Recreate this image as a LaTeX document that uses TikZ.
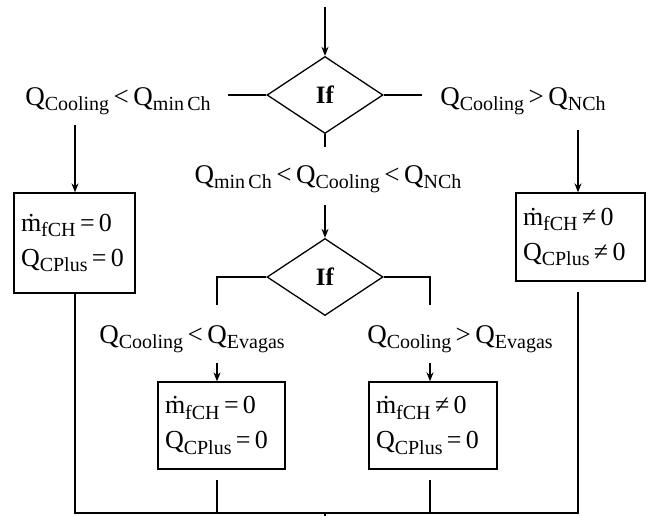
\documentclass[tikz,border=0pt]{standalone}
\usepackage{fontspec}
\setmainfont{Liberation Serif}
\usetikzlibrary{shapes.geometric,arrows.meta}
\newcommand\lowsub[1]{\raisebox{-5.5pt}{\fontsize{20}{20}\selectfont #1}}
\tikzset{
  lbl/.style={inner sep=0pt, font=\fontsize{27}{30}\selectfont},
  dec/.style={draw, diamond, aspect=1.5, inner sep=0pt, minimum width=116pt, minimum height=77pt, line width=1.3pt, font=\fontsize{25}{28}\selectfont\bfseries},
  res/.style={draw, rectangle, line width=1.3pt, inner sep=0pt, align=left, font=\fontsize{26}{35}\selectfont},
  ln/.style={line width=1.5pt},
  arr/.style={line width=1.5pt, -{Stealth[length=9pt,width=7pt]}}
}
\begin{document}
\begin{tikzpicture}[x=1pt,y=-1pt]
\useasboundingbox (0,0) rectangle (652,515);
% first decision
\coordinate (top) at (325,7);
\node[dec] (d1) at (325,95) {If};
\coordinate (d1l) at (228,95);
\coordinate (d1r) at (422,95);
\coordinate (d1b) at (325,147);
\draw[arr] (top) -- (d1.north);
\draw[ln] (d1.west) -- (d1l);
\draw[ln] (d1.east) -- (d1r);
\draw[ln] (d1.south) -- (d1b);
\node[lbl] (l1) at (118,101) {Q\lowsub{Cooling}\,<\,Q\lowsub{min\,Ch}};
\node[lbl] (r1) at (523,101) {Q\lowsub{Cooling}\,>\,Q\lowsub{NCh}};
\node[lbl] (m1) at (328,179) {Q\lowsub{min\,Ch}\,<\,Q\lowsub{Cooling}\,<\,Q\lowsub{NCh}};
% side boxes
\node[res, minimum width=121pt, minimum height=100pt, text width=107pt] (b1) at (74.5,243) {ṁ\lowsub{fCH}\,=\,0\\Q\lowsub{CPlus}\,=\,0};
\node[res, minimum width=129pt, minimum height=88pt, text width=115pt] (b2) at (580.5,237) {ṁ\lowsub{fCH}\,≠\,0\\Q\lowsub{CPlus}\,≠\,0};
\coordinate (a1) at (75,125);
\coordinate (a2) at (578,130);
\draw[arr] (a1) -- (a1 |- b1.north);
\draw[arr] (a2) -- (a2 |- b2.north);
% second decision
\coordinate (a3) at (325,205);
\node[dec] (d2) at (325,277) {If};
\draw[arr] (a3) -- (d2.north);
\coordinate (d2l) at (217,305);
\coordinate (d2r) at (430,305);
\draw[ln] (d2.west) -| (d2l);
\draw[ln] (d2.east) -| (d2r);
\node[lbl] (l2) at (192,339) {Q\lowsub{Cooling}\,<\,Q\lowsub{Evagas}};
\node[lbl] (r2) at (460,339) {Q\lowsub{Cooling}\,>\,Q\lowsub{Evagas}};
\node[res, minimum width=127pt, minimum height=87pt, text width=113pt] (b3) at (221.5,425.5) {ṁ\lowsub{fCH}\,=\,0\\Q\lowsub{CPlus}\,=\,0};
\node[res, minimum width=128pt, minimum height=87pt, text width=114pt] (b4) at (433,425.5) {ṁ\lowsub{fCH}\,≠\,0\\Q\lowsub{CPlus}\,=\,0};
\coordinate (a4) at (217,363);
\coordinate (a5) at (430,363);
\draw[arr] (a4) -- (a4 |- b3.north);
\draw[arr] (a5) -- (a5 |- b4.north);
% collector
\coordinate (bl) at (75,513);
\coordinate (br) at (578,513);
\coordinate (s2) at (578,292);
\coordinate (s3) at (217,480);
\coordinate (s4) at (430,480);
\coordinate (bc) at (325,513);
\coordinate (out) at (325,516);
\draw[ln] (a1 |- b1.south) -- (bl) -- (br) -- (s2);
\draw[ln] (s3) -- (s3 |- bl);
\draw[ln] (s4) -- (s4 |- bl);
\draw[ln] (bc) -- (out);
\end{tikzpicture}
\end{document}
